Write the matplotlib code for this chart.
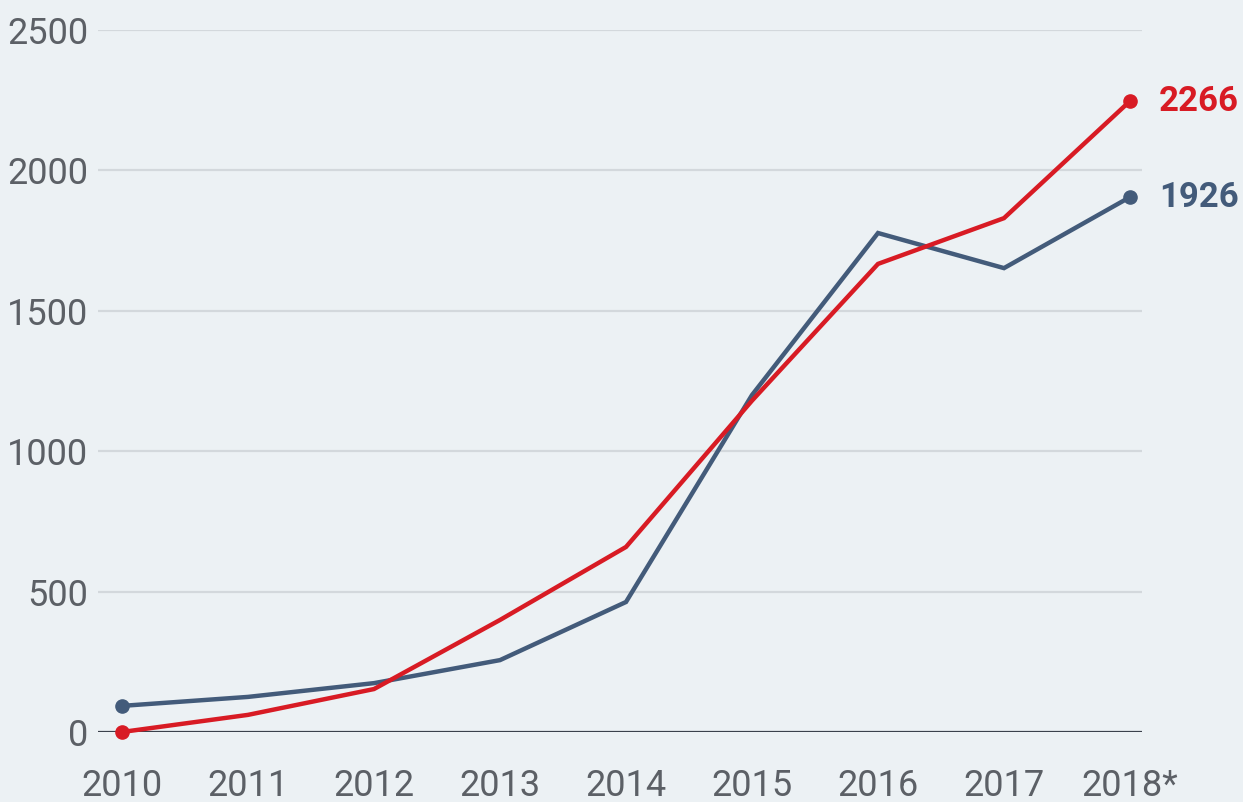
import matplotlib
matplotlib.use("Agg")
import matplotlib.pyplot as plt

plt.rcParams["font.family"] = ["Roboto", "DejaVu Sans"]

# values
years = [2010, 2011, 2012, 2013, 2014, 2015, 2016, 2017, 2018]
year_labels = ["2010", "2011", "2012", "2013", "2014", "2015", "2016", "2017", "2018*"]
blue_values = [93, 125, 174, 256, 463, 1200, 1777, 1652, 1905]
red_values = [0, 61, 153, 399, 659, 1180, 1667, 1830, 2247]
end_labels = {"red": "2266", "blue": "1926"}
y_ticks = [0, 500, 1000, 1500, 2000, 2500]

BG = "#ecf1f4"
RED = "#d81b24"
BLUE = "#435b7a"
TICK = "#5c6066"

W, H = 1243, 802
fig = plt.figure(figsize=(W / 100, H / 100), dpi=100, facecolor=BG)
ax = fig.add_axes([98 / W, (H - 732) / H, (1142 - 98) / W, (732 - 30) / H])
ax.set_facecolor(BG)

ax.set_xlim(2010 - 24 / 126, 2018 + 12 / 126)
ax.set_ylim(0, 2500)

# gridlines
for t in y_ticks[1:]:
    ax.axhline(t, color="#d3d8dc", lw=1.6, zorder=1)
ax.axhline(0, color="#3b414c", lw=1.6, zorder=2)

ax.plot(years, blue_values, color=BLUE, lw=3.2, zorder=3, clip_on=False,
        solid_joinstyle="miter")
ax.plot(years, red_values, color=RED, lw=3.2, zorder=4, clip_on=False,
        solid_joinstyle="miter")
for vals, col in [(blue_values, BLUE), (red_values, RED)]:
    ax.plot([years[0], years[-1]], [vals[0], vals[-1]], "o", color=col,
            ms=9.5, zorder=5, clip_on=False)

ax.annotate(end_labels["red"], (years[-1], red_values[-1]), xytext=(21, 0),
            textcoords="offset points", color=RED, fontsize=25,
            fontweight="bold", va="center", ha="left", annotation_clip=False)
ax.annotate(end_labels["blue"], (years[-1], blue_values[-1]), xytext=(21, 0),
            textcoords="offset points", color=BLUE, fontsize=25,
            fontweight="bold", va="center", ha="left", annotation_clip=False)

ax.set_yticks(y_ticks)
ax.set_yticklabels([str(t) for t in y_ticks])
ax.set_xticks(years)
ax.set_xticklabels(year_labels)
ax.tick_params(axis="y", length=0, pad=7, labelsize=26, labelcolor=TICK)
ax.tick_params(axis="x", length=0, pad=26, labelsize=26, labelcolor=TICK)
for s in ax.spines.values():
    s.set_visible(False)

fig.savefig("out.png", dpi=100, facecolor=BG)
